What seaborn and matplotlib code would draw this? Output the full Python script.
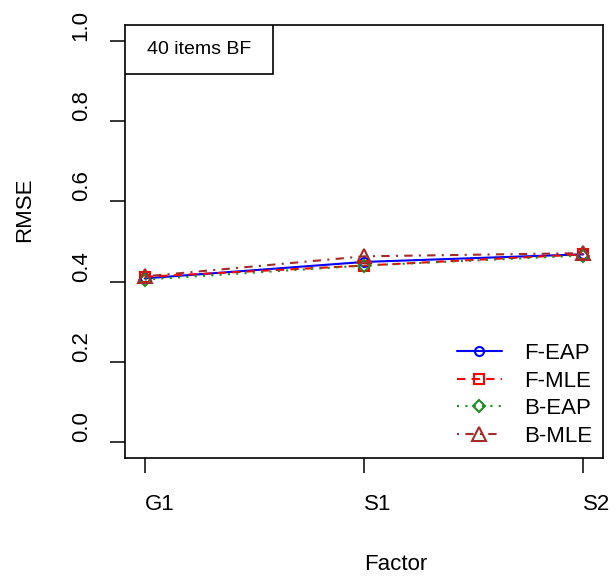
import matplotlib
matplotlib.use("Agg")
import matplotlib.pyplot as plt
import seaborn as sns
import pandas as pd
from matplotlib.patches import Rectangle

factors = ["G1", "S1", "S2"]
positions = [1, 2, 3]
f_eap = [0.408, 0.449, 0.468]
f_mle = [0.412, 0.440, 0.468]
b_eap = [0.405, 0.440, 0.465]
b_mle = [0.413, 0.463, 0.471]
series_names = ["F-EAP", "F-MLE", "B-EAP", "B-MLE"]
y_ticks = [0.0, 0.2, 0.4, 0.6, 0.8, 1.0]
y_tick_labels = ["0.0", "0.2", "0.4", "0.6", "0.8", "1.0"]
box_text = "40 items BF"

sns.set_theme(style="white")
plt.rcParams["font.family"] = ["Liberation Sans", "DejaVu Sans"]

fig = plt.figure(figsize=(6.16, 5.78), dpi=100)
ax = fig.add_axes([125/616, 1-458/578, 478/616, 433/578])

styles = [
    dict(color="#0000FF", marker="o", dashes=(None, None), ms=6.5),
    dict(color="#FF0000", marker="s", dashes=(4, 3), ms=6.5),
    dict(color="#228B22", marker="D", dashes=(1, 3), ms=6.5),
    dict(color="#A52A2A", marker="^", dashes=(1, 3, 4, 3), ms=10),
]
values = [f_eap, f_mle, b_eap, b_mle]

for name, vals, st in zip(series_names, values, styles):
    df = pd.DataFrame({"x": positions, "y": vals})
    kws = dict(color=st["color"], marker=st["marker"], markersize=st["ms"],
               markerfacecolor="none", markeredgecolor=st["color"],
               markeredgewidth=1.5, linewidth=1.5, label=name, ax=ax)
    sns.lineplot(data=df, x="x", y="y", **kws)
    ln = ax.get_lines()[-1]
    if st["dashes"][0] is not None:
        ln.set_dashes(st["dashes"])

ax.set_xlim(0.91, 3.09)
ax.set_ylim(-0.04, 1.04)
ax.set_xticks(positions)
ax.set_xticklabels(factors)
ax.set_yticks(y_ticks)
ax.set_yticklabels(y_tick_labels)

for s in ax.spines.values():
    s.set_color("black")
    s.set_linewidth(1.2)

ax.tick_params(axis="both", which="major", direction="out", length=11,
               width=1.1, color="black", labelsize=16, labelcolor="black",
               bottom=True, left=True)
ax.tick_params(axis="x", pad=15)
ax.tick_params(axis="y", pad=13)
for lbl in ax.get_xticklabels():
    lbl.set_ha("left")
for lbl in ax.get_yticklabels():
    lbl.set_rotation(90)
    lbl.set_va("bottom")

ax.set_xlabel("Factor", fontsize=16, color="black")
ax.xaxis.set_label_coords(0.5, -0.222)
ax.xaxis.label.set_ha("left")
ax.set_ylabel("RMSE", fontsize=16, color="black")
ax.yaxis.set_label_coords(-0.211, 0.5)
ax.yaxis.label.set_rotation_mode("anchor")
ax.yaxis.label.set_ha("left")
ax.yaxis.label.set_va("center")

# box label top-left
rect = Rectangle((0, 1 - 49/433), 148/478, 49/433, transform=ax.transAxes,
                 facecolor="white", edgecolor="black", linewidth=1.2, zorder=5)
ax.add_patch(rect)
ax.text(74/478, 1 - 24.5/433, box_text, transform=ax.transAxes,
        ha="center", va="center", fontsize=14, color="black", zorder=6)

leg = ax.legend(loc="lower right", frameon=False, fontsize=16,
                handlelength=2.0, handletextpad=1.0, labelspacing=0.3,
                borderaxespad=0.1)
for t in leg.get_texts():
    t.set_color("black")

fig.savefig("out.png", dpi=100, facecolor="white")
